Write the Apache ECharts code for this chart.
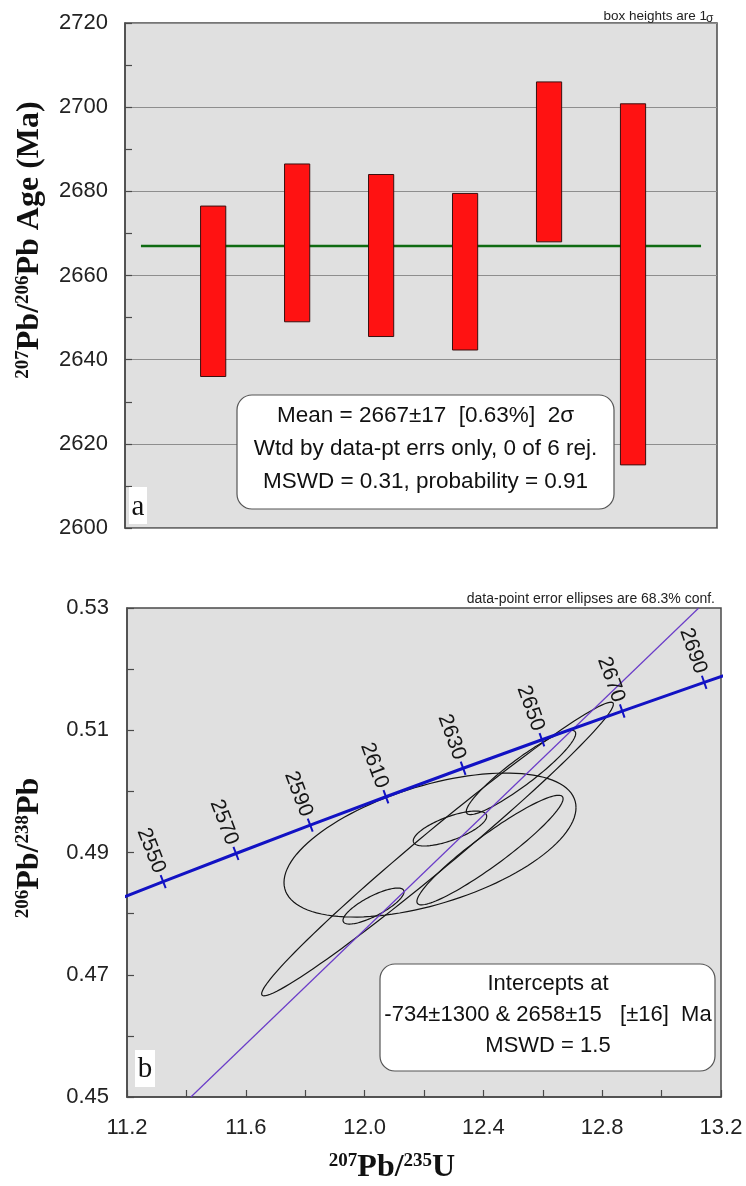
<!DOCTYPE html>
<html><head><meta charset="utf-8">
<script src="https://cdn.jsdelivr.net/npm/echarts/dist/echarts.min.js"></script>
<style>html,body{margin:0;padding:0;background:#fff}#c{width:746px;height:1186px}</style>
</head><body><div id="c"></div>
<script>
// ---------- Panel a : 207Pb/206Pb ages, box heights 1 sigma ----------
const spotIndex = [1, 2, 3, 4, 5, 6];
const boxLow  = [2636, 2649, 2645.5, 2642.3, 2668, 2615];
const boxHigh = [2676.5, 2686.5, 2684, 2679.5, 2706, 2700.8];
const meanAge = 2667;
const meanLineX = [0.14, 6.81];
const boxWidth = 0.3;

// ---------- Panel b : concordia diagram ----------
const concAge = [2530, 2550, 2570, 2590, 2610, 2630, 2650, 2670, 2690, 2700];
const concX = [11.0814, 11.3218, 11.5669, 11.8169, 12.0718, 12.3318, 12.5970, 12.8675, 13.1434, 13.2833];
const concY = [0.48063, 0.48523, 0.48984, 0.49447, 0.49912, 0.50378, 0.50845, 0.51314, 0.51784, 0.52020];
const concLabelAges = [2550, 2570, 2590, 2610, 2630, 2650, 2670, 2690];
const discordiaX = [11.415, 13.125];
const discordiaY = [0.45, 0.53];
// error ellipses: centre x, centre y, half-width x, half-width y, correlation
const ellCx  = [12.2202, 12.030, 12.2875, 12.5266, 12.4222, 12.2455];
const ellCy  = [0.49122, 0.48124, 0.49392, 0.50309, 0.49040, 0.49057];
const ellSx  = [0.4916, 0.1027, 0.1236, 0.1842, 0.2461, 0.5922];
const ellSy  = [0.01178, 0.002945, 0.00286, 0.00689, 0.008966, 0.02402];
const ellRho = [0.52, 0.79, 0.70, 0.924, 0.937, 0.986];

const SANS = '"Liberation Sans", Arial, sans-serif';
const SERIF = '"Liberation Serif", "Times New Roman", serif';
const AXC = '#4a4a4a';

const chart = echarts.init(document.getElementById('c'));

const boxData = spotIndex.map((s, i) => [s, boxLow[i], boxHigh[i]]);
const ellData = ellCx.map((c, i) => [c, ellCy[i], ellSx[i], ellSy[i], ellRho[i]]);
const concData = concX.map((x, i) => [x, concY[i]]);
const tickData = concLabelAges.map(a => { const i = concAge.indexOf(a); return [concX[i], concY[i], a, i]; });

const axisLab = (fmt, margin) => ({fontSize: 22, fontFamily: SANS, color: '#222', margin: margin, formatter: fmt});
const titleRich = {
  b: {fontSize: 32, fontWeight: 'bold', fontFamily: SERIF, fill: '#111'},
  s: {fontSize: 19, fontWeight: 'bold', fontFamily: SERIF, fill: '#111', verticalAlign: 'top'}
};

const option = {
  animation: false,
  backgroundColor: '#fff',
  grid: [
    {left: 125, top: 23, width: 592, height: 505, show: true, backgroundColor: '#e0e0e0', borderColor: AXC, borderWidth: 1.5},
    {left: 127, top: 608, width: 594, height: 489, show: true, backgroundColor: '#e0e0e0', borderColor: AXC, borderWidth: 1.5}
  ],
  xAxis: [
    {gridIndex: 0, type: 'value', min: -0.05, max: 7, show: false},
    {gridIndex: 1, type: 'value', min: 11.2, max: 13.2, interval: 0.4,
     axisLine: {show: true, onZero: false, lineStyle: {color: AXC, width: 1.5}},
     axisTick: {show: true, inside: true, length: 7, lineStyle: {color: AXC, width: 1.2}},
     minorTick: {show: true, splitNumber: 2, length: 7, lineStyle: {color: AXC, width: 1.2}},
     splitLine: {show: false},
     axisLabel: axisLab(v => v.toFixed(1), 20)}
  ],
  yAxis: [
    {gridIndex: 0, type: 'value', min: 2600, max: 2720, interval: 20,
     axisLine: {show: true, onZero: false, lineStyle: {color: AXC, width: 1.5}},
     axisTick: {show: true, inside: true, length: 7, lineStyle: {color: AXC, width: 1.2}},
     minorTick: {show: true, splitNumber: 2, length: 7, lineStyle: {color: AXC, width: 1.2}},
     splitLine: {show: true, lineStyle: {color: '#8e8e8e', width: 1}},
     axisLabel: axisLab(v => String(v), 17)},
    {gridIndex: 1, type: 'value', min: 0.45, max: 0.53, interval: 0.02,
     axisLine: {show: true, onZero: false, lineStyle: {color: AXC, width: 1.5}},
     axisTick: {show: true, inside: true, length: 7, lineStyle: {color: AXC, width: 1.2}},
     minorTick: {show: true, splitNumber: 2, length: 7, lineStyle: {color: AXC, width: 1.2}},
     splitLine: {show: false},
     axisLabel: axisLab(v => v.toFixed(2), 18)}
  ],
  series: [
    {type: 'line', xAxisIndex: 0, yAxisIndex: 0, data: meanLineX.map(x => [x, meanAge]),
     showSymbol: false, lineStyle: {color: '#0f6b12', width: 2.5}, z: 2, silent: true},
    {type: 'custom', xAxisIndex: 0, yAxisIndex: 0, data: boxData, encode: {x: 0, y: [1, 2]}, z: 3,
     renderItem: (params, api) => {
       const x = api.value(0);
       const top = api.coord([x, api.value(2)]);
       const bot = api.coord([x, api.value(1)]);
       const w = api.size([boxWidth, 0])[0];
       return {type: 'rect', shape: {x: top[0] - w / 2, y: top[1], width: w, height: bot[1] - top[1]},
               style: {fill: '#ff1212', stroke: '#3a1010', lineWidth: 1}};
     }},
    {type: 'custom', xAxisIndex: 1, yAxisIndex: 1, data: ellData, encode: {x: 0, y: 1}, z: 2, clip: true,
     renderItem: (params, api) => {
       const cx = api.value(0), cy = api.value(1), sx = api.value(2), sy = api.value(3), r = api.value(4);
       const pts = [];
       const q = Math.sqrt(1 - r * r);
       for (let k = 0; k <= 120; k++) {
         const t = 2 * Math.PI * k / 120;
         pts.push(api.coord([cx + sx * Math.cos(t), cy + sy * (r * Math.cos(t) + q * Math.sin(t))]));
       }
       return {type: 'polyline', shape: {points: pts}, style: {fill: 'none', stroke: '#151515', lineWidth: 1.2}};
     }},
    {type: 'line', xAxisIndex: 1, yAxisIndex: 1, data: discordiaX.map((x, i) => [x, discordiaY[i]]),
     showSymbol: false, lineStyle: {color: '#6a3cc8', width: 1.2}, z: 3, clip: true, silent: true},
    {type: 'line', xAxisIndex: 1, yAxisIndex: 1, data: concData,
     showSymbol: false, lineStyle: {color: '#1212c4', width: 3}, z: 4, clip: true, silent: true},
    {type: 'custom', xAxisIndex: 1, yAxisIndex: 1, data: tickData, encode: {x: 0, y: 1}, z: 5, clip: false,
     renderItem: (params, api) => {
       const p = api.coord([api.value(0), api.value(1)]);
       const i = api.value(3);
       const a = api.coord([concX[i - 1], concY[i - 1]]);
       const b = api.coord([concX[i + 1], concY[i + 1]]);
       const alpha = Math.atan2(-(b[1] - a[1]), b[0] - a[0]);
       const nx = -Math.sin(alpha), ny = -Math.cos(alpha);
       const L = 7, gap = 10;
       return {type: 'group', children: [
         {type: 'line', shape: {x1: p[0] - nx * L, y1: p[1] - ny * L, x2: p[0] + nx * L, y2: p[1] + ny * L},
          style: {stroke: '#1212c4', lineWidth: 2}},
         {type: 'text', x: p[0] + nx * gap, y: p[1] + ny * gap, rotation: alpha - Math.PI / 2,
          style: {text: String(api.value(2)), x: 0, y: 0, align: 'right', verticalAlign: 'middle',
                  font: '21px ' + SANS, fill: '#151515'}}
       ]};
     }}
  ],
  graphic: [
    // panel a annotations
    {type: 'text', right: 746 - 707, top: 9, style: {text: 'box heights are 1', font: '13.5px ' + SANS, fill: '#222'}},
    {type: 'text', left: 706, top: 13, style: {text: 'σ', font: '12px ' + SANS, fill: '#222'}},
    {type: 'rect', shape: {x: 237, y: 395, width: 377, height: 114, r: 15},
     style: {fill: '#fff', stroke: '#555', lineWidth: 1.2}, z: 10},
    {type: 'text', x: 425.5, y: 416, z: 11, style: {text: 'Mean = 2667±17  [0.63%]  2σ', align: 'center', verticalAlign: 'middle', font: '22.5px ' + SANS, fill: '#111'}},
    {type: 'text', x: 425.5, y: 449, z: 11, style: {text: 'Wtd by data-pt errs only, 0 of 6 rej.', align: 'center', verticalAlign: 'middle', font: '22.5px ' + SANS, fill: '#111'}},
    {type: 'text', x: 425.5, y: 482, z: 11, style: {text: 'MSWD = 0.31, probability = 0.91', align: 'center', verticalAlign: 'middle', font: '22.5px ' + SANS, fill: '#111'}},
    {type: 'rect', shape: {x: 129, y: 487, width: 18, height: 37}, style: {fill: '#fff'}, z: 10},
    {type: 'text', x: 138, y: 507, z: 11, style: {text: 'a', align: 'center', verticalAlign: 'middle', font: '29px ' + SERIF, fill: '#111'}},
    {type: 'text', x: 30, y: 240, rotation: Math.PI / 2, z: 11,
     style: {text: '{s|207}{b|Pb/}{s|206}{b|Pb Age (Ma)}', align: 'center', verticalAlign: 'middle', rich: titleRich}},
    // panel b annotations
    {type: 'text', right: 746 - 715, top: 592, style: {text: 'data-point error ellipses are 68.3% conf.', font: '14px ' + SANS, fill: '#222'}},
    {type: 'rect', shape: {x: 380, y: 964, width: 335, height: 107, r: 15},
     style: {fill: '#fff', stroke: '#555', lineWidth: 1.2}, z: 10},
    {type: 'text', x: 548, y: 984, z: 11, style: {text: 'Intercepts at', align: 'center', verticalAlign: 'middle', font: '22px ' + SANS, fill: '#111'}},
    {type: 'text', x: 548, y: 1015, z: 11, style: {text: '-734±1300 & 2658±15   [±16]  Ma', align: 'center', verticalAlign: 'middle', font: '22px ' + SANS, fill: '#111'}},
    {type: 'text', x: 548, y: 1046, z: 11, style: {text: 'MSWD = 1.5', align: 'center', verticalAlign: 'middle', font: '22px ' + SANS, fill: '#111'}},
    {type: 'rect', shape: {x: 135, y: 1050, width: 20, height: 37}, style: {fill: '#fff'}, z: 10},
    {type: 'text', x: 145, y: 1069, z: 11, style: {text: 'b', align: 'center', verticalAlign: 'middle', font: '29px ' + SERIF, fill: '#111'}},
    {type: 'text', x: 30, y: 848, rotation: Math.PI / 2, z: 11,
     style: {text: '{s|206}{b|Pb/}{s|238}{b|Pb}', align: 'center', verticalAlign: 'middle', rich: titleRich}},
    {type: 'text', x: 392, y: 1168, z: 11,
     style: {text: '{s|207}{b|Pb/}{s|235}{b|U}', align: 'center', verticalAlign: 'middle', rich: titleRich}}
  ]
};
chart.setOption(option);
</script>
</body></html>
